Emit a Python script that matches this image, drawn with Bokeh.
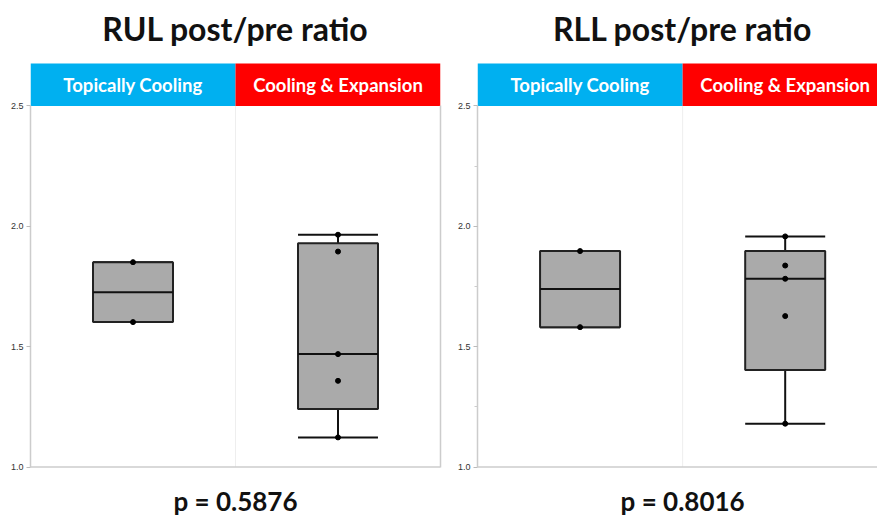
import numpy as np
from bokeh.plotting import figure
from bokeh.layouts import row
from bokeh.models import Range1d, LinearAxis, FixedTicker, Span, CustomJSTickFormatter
from bokeh.embed import file_html
from bokeh.resources import INLINE
from bokeh.core.properties import value

# ---- data ----
groups = ["Topically Cooling", "Cooling & Expansion"]
group_colors = ["#00B0F0", "#FF0000"]
y_ticks = [1.0, 1.5, 2.0, 2.5]
y_minor = [1.25, 1.75, 2.25]

rul_tc = [1.602, 1.851]
rul_ce = [1.123, 1.358, 1.469, 1.895, 1.965]
rll_tc = [1.581, 1.897]
rll_ce = [1.180, 1.627, 1.782, 1.837, 1.958]

titles = ["RUL post/pre ratio", "RLL post/pre ratio"]
pvals = ["p = 0.5876", "p = 0.8016"]

FONT = "Lato"
Y0, Y1 = 1.0, 2.5           # plotted value range
PX_PER_UNIT = 240.7         # layout: vertical scale
H = 515
Y_PIX = 466.5               # pixel row of y = 1.0
YMIN = Y0 - (H - Y_PIX) / PX_PER_UNIT
YMAX = Y0 + Y_PIX / PX_PER_UNIT
STRIP_TOP = Y1 + 42.5 / PX_PER_UNIT
TITLE_Y = Y0 + (Y_PIX - 28) / PX_PER_UNIT
PVAL_Y = Y0 - (500 - Y_PIX) / PX_PER_UNIT
BOX_W = 0.39


def box_stats(vals):
    v = np.asarray(vals, dtype=float)
    q1 = np.quantile(v, 0.25, method="weibull")
    med = np.median(v)
    q3 = np.quantile(v, 0.75, method="weibull")
    return v.min(), q1, med, q3, v.max()


def make_panel(title, pval, series, width, left, right, xend, minor, right_axis):
    p = figure(width=width, height=H, output_backend="svg", toolbar_location=None,
               x_range=Range1d(0, xend), y_range=Range1d(YMIN, YMAX),
               min_border_left=left, min_border_right=right,
               min_border_top=0, min_border_bottom=0)
    p.title.visible = False
    p.outline_line_color = None
    p.background_fill_color = "white"
    p.border_fill_color = "white"
    p.xaxis.visible = False
    p.ygrid.grid_line_color = None
    p.xgrid.grid_line_color = None

    # y axis
    ya = p.yaxis[0]
    ya.ticker = FixedTicker(ticks=y_ticks, minor_ticks=(y_minor if minor else []))
    ya.bounds = (Y0, Y1)
    ya.axis_line_color = "#cccccc"
    ya.axis_line_width = 1.5
    ya.major_tick_line_color = "#bbbbbb"
    ya.major_tick_out = 4
    ya.major_tick_in = 0
    ya.minor_tick_line_color = "#cccccc"
    ya.minor_tick_out = 3
    ya.minor_tick_in = 0
    ya.major_label_text_font = "Liberation Sans"
    ya.major_label_text_font_size = "9px"
    ya.major_label_text_color = "#333333"
    ya.major_label_standoff = 3
    ya.formatter = CustomJSTickFormatter(code="return tick.toFixed(1);")

    if right_axis:
        ra = LinearAxis(bounds=(Y0, Y1), axis_line_color="#cccccc", axis_line_width=1.5,
                        major_tick_line_color=None, minor_tick_line_color=None,
                        major_label_standoff=0)
        ra.ticker = FixedTicker(ticks=[])
        p.add_layout(ra, "right")

    # category separator and bottom line
    p.segment(x0=[1.0], y0=[Y0], x1=[1.0], y1=[Y1], line_color="#eeeeee", line_width=1)
    p.add_layout(Span(location=Y0, dimension="width", line_color="#cccccc", line_width=1.5))

    # header strips
    p.quad(left=[0, 1], right=[1, 2], bottom=[Y1, Y1], top=[STRIP_TOP, STRIP_TOP],
           fill_color=group_colors, line_color=None)
    p.text(x=[0.5, 1.5], y=[(Y1 + STRIP_TOP) / 2] * 2, text=groups,
           text_font=value(FONT), text_font_style="bold", text_font_size="18.5px",
           text_color="white", text_align="center", text_baseline="middle")

    # title and p-value
    p.text(x=[1.0], y=[TITLE_Y], text=[title], text_font=value(FONT),
           text_font_style="bold", text_font_size="32px", text_color="#111111",
           text_align="center", text_baseline="middle")
    p.text(x=[1.0], y=[PVAL_Y], text=[pval], text_font=value(FONT),
           text_font_style="bold", text_font_size="26px", text_color="#111111",
           text_align="center", text_baseline="middle")

    # boxes
    for i, vals in enumerate(series):
        c = i + 0.5
        lo, q1, med, q3, hi = box_stats(vals)
        p.segment(x0=[c, c], y0=[q3, q1], x1=[c, c], y1=[hi, lo],
                  line_color="#111111", line_width=2)
        p.segment(x0=[c - BOX_W / 2] * 2, y0=[hi, lo], x1=[c + BOX_W / 2] * 2, y1=[hi, lo],
                  line_color="#111111", line_width=2)
        p.quad(left=[c - BOX_W / 2], right=[c + BOX_W / 2], bottom=[q1], top=[q3],
               fill_color="#AAAAAA", line_color="#222222", line_width=2)
        p.segment(x0=[c - BOX_W / 2], y0=[med], x1=[c + BOX_W / 2], y1=[med],
                  line_color="#111111", line_width=2)
        p.scatter(x=[c] * len(vals), y=vals, size=5, color="black")
    return p


p1 = make_panel(titles[0], pvals[0], [rul_tc, rul_ce], 450, 30, 10, 2.0, False, True)
p2 = make_panel(titles[1], pvals[1], [rll_tc, rll_ce], 427, 27, 0, 1.95, True, False)

layout = row(p1, p2, spacing=0)
open("out.html", "w").write(file_html(layout, INLINE))
